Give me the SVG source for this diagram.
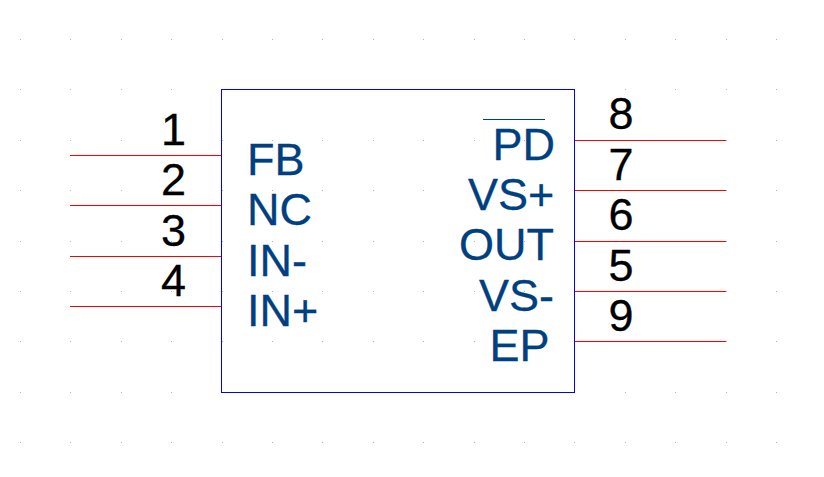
<svg xmlns="http://www.w3.org/2000/svg" width="824" height="477" viewBox="0 0 824 477">
<style>
.n{font-family:"Liberation Sans",Arial,sans-serif;font-size:45px;fill:#000;stroke:#000;stroke-width:.3px;text-anchor:middle}
.l{font-family:"Liberation Sans",Arial,sans-serif;font-size:45px;fill:#004080;stroke:#004080;stroke-width:.3px}
.p{stroke:#f00;stroke-width:1;fill:none}
.d{fill:#b4b4b4}
</style>
<defs>
<g id="row"><rect class="d" x="20" width="1" height="1"/><rect class="d" x="70" width="1" height="1"/><rect class="d" x="121" width="1" height="1"/><rect class="d" x="171" width="1" height="1"/><rect class="d" x="222" width="1" height="1"/><rect class="d" x="272" width="1" height="1"/><rect class="d" x="322" width="1" height="1"/><rect class="d" x="373" width="1" height="1"/><rect class="d" x="423" width="1" height="1"/><rect class="d" x="474" width="1" height="1"/><rect class="d" x="524" width="1" height="1"/><rect class="d" x="574" width="1" height="1"/><rect class="d" x="625" width="1" height="1"/><rect class="d" x="675" width="1" height="1"/><rect class="d" x="726" width="1" height="1"/><rect class="d" x="776" width="1" height="1"/></g>
</defs>
<rect width="824" height="477" fill="#fff"/>
<g id="grid">
<use href="#row" y="39"/><use href="#row" y="89"/><use href="#row" y="140"/><use href="#row" y="190"/><use href="#row" y="241"/><use href="#row" y="291"/><use href="#row" y="341"/><use href="#row" y="392"/><use href="#row" y="442"/>
</g>
<g id="connectors">
<path class="p" d="M70 155.500H221"/><path class="p" d="M70 205.500H221"/><path class="p" d="M70 256.500H221"/><path class="p" d="M70 306.500H221"/>
<path class="p" d="M575 140.500H726"/><path class="p" d="M575 190.500H726"/><path class="p" d="M575 241.500H726"/><path class="p" d="M575 291.500H726"/><path class="p" d="M575 341.500H726"/>
</g>
<g id="body">
<rect x="221.500" y="89.500" width="353" height="303" fill="none" stroke="#00f" stroke-width="1"/>
</g>
<g id="pin-1"><text class="n" x="173.500" y="145">1</text><text class="l" x="247" y="175">FB</text></g>
<g id="pin-2"><text class="n" x="173.500" y="195">2</text><text class="l" x="247" y="225">NC</text></g>
<g id="pin-3"><text class="n" x="173.500" y="246">3</text><text class="l" x="247" y="276">IN-</text></g>
<g id="pin-4"><text class="n" x="173.500" y="296">4</text><text class="l" x="247" y="326">IN+</text></g>
<g id="pin-8"><text class="n" x="621" y="129">8</text><text class="l" x="492.500" y="160">PD</text><path d="M483 119.500H545" stroke="#004080" stroke-width="1" fill="none"/></g>
<g id="pin-7"><text class="n" x="621" y="180">7</text><text class="l" x="468" y="210">VS+</text></g>
<g id="pin-6"><text class="n" x="621" y="230">6</text><text class="l" x="459" y="260">OUT</text></g>
<g id="pin-5"><text class="n" x="621" y="281">5</text><text class="l" x="479" y="311">VS-</text></g>
<g id="pin-9"><text class="n" x="621" y="331">9</text><text class="l" x="489.500" y="361">EP</text></g>
</svg>
